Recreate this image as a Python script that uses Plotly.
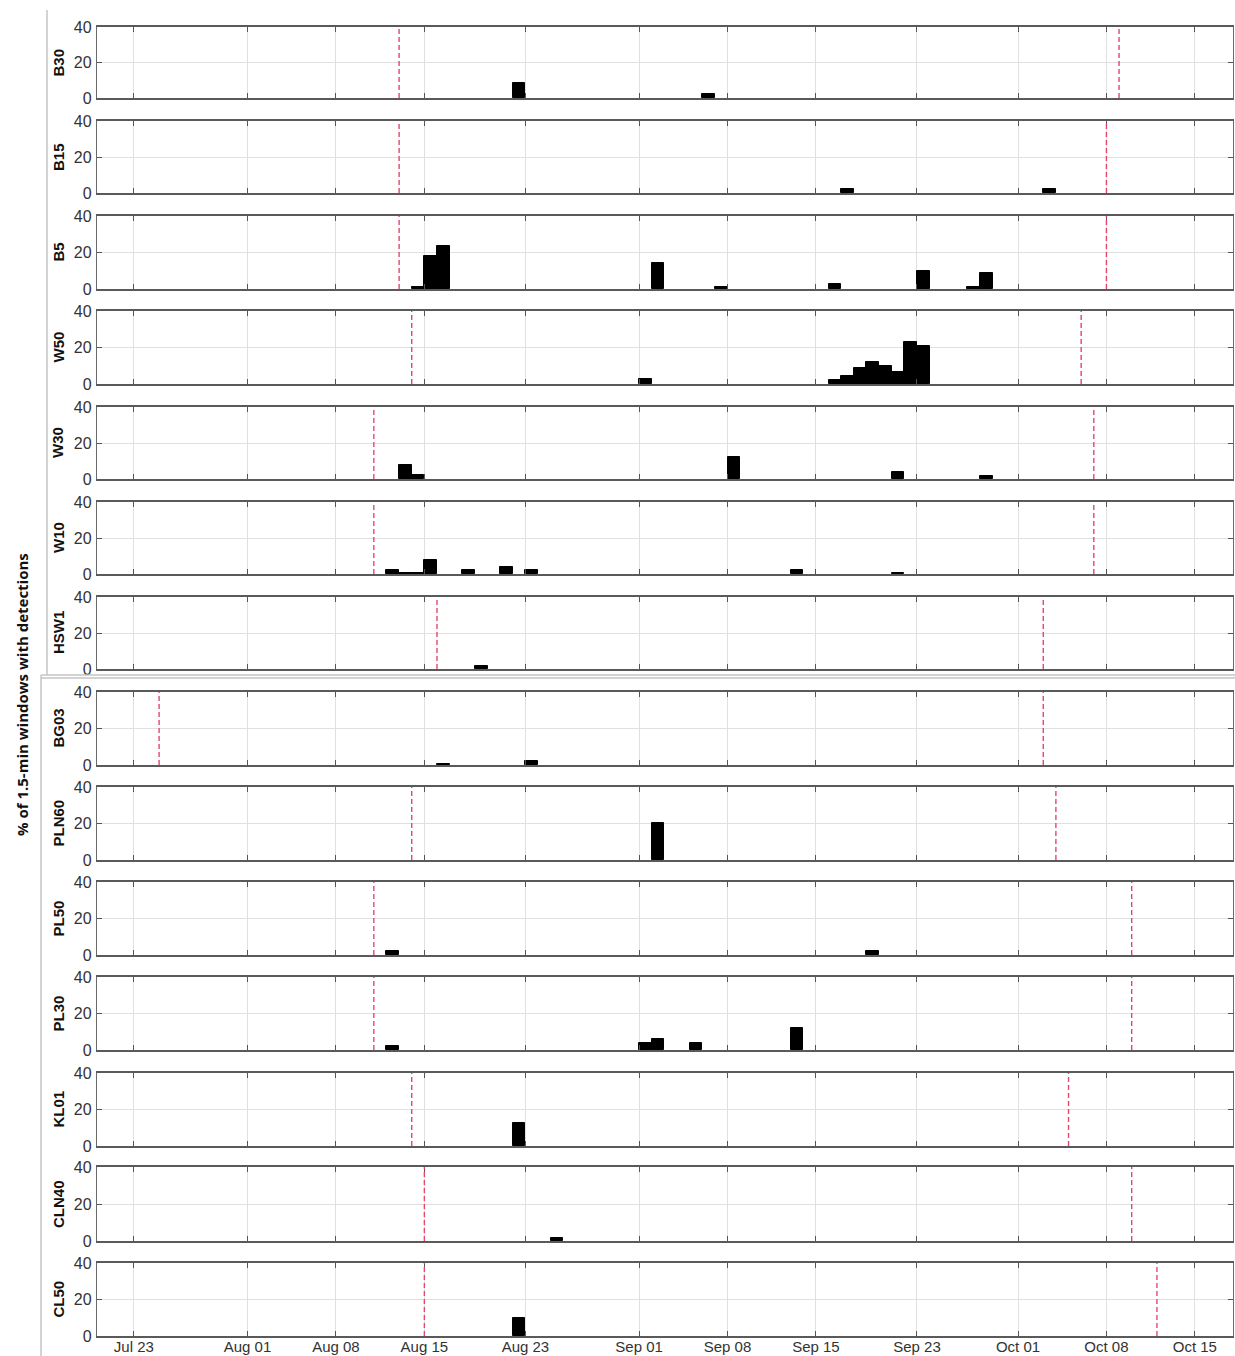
import plotly.graph_objects as go

YEAR = 2014

stations = ["B30", "B15", "B5", "W50", "W30", "W10", "HSW1",
            "BG03", "PLN60", "PL50", "PL30", "KL01", "CLN40", "CL50"]

# daily % of 1.5-min windows with detections (bar starts on the given day)
B30_days = ["08-22", "09-06"]
B30_pct = [8.5, 2]
B15_days = ["09-17", "10-03"]
B15_pct = [2, 2]
B5_days = ["08-14", "08-15", "08-16", "09-02", "09-07", "09-16", "09-23", "09-27", "09-28"]
B5_pct = [1, 18, 23.5, 14, 1, 2.5, 10, 1, 8.5]
W50_days = ["09-01", "09-16", "09-17", "09-18", "09-19", "09-20", "09-21", "09-22", "09-23"]
W50_pct = [2.5, 2, 4.5, 8.5, 12, 10, 6.5, 23, 21]
W30_days = ["08-13", "08-14", "09-08", "09-21", "09-28"]
W30_pct = [8, 2, 12.5, 4, 1.8]
W10_days = ["08-12", "08-13", "08-14", "08-15", "08-18", "08-21", "08-23", "09-13", "09-21"]
W10_pct = [2, 0.6, 0.6, 8, 2, 4, 2, 2, 0.7]
HSW1_days = ["08-19"]
HSW1_pct = [1.5]
BG03_days = ["08-16", "08-23"]
BG03_pct = [0.7, 2.2]
PLN60_days = ["09-02"]
PLN60_pct = [20.5]
PL50_days = ["08-12", "09-19"]
PL50_pct = [2, 2]
PL30_days = ["08-12", "09-01", "09-02", "09-05", "09-13"]
PL30_pct = [2, 4, 6, 4, 12]
KL01_days = ["08-22"]
KL01_pct = [12.5]
CLN40_days = ["08-25"]
CLN40_pct = [1.5]
CL50_days = ["08-22"]
CL50_pct = [10]

# deployment start / end (red dashed lines)
deploy_start = ["08-13", "08-13", "08-13", "08-14", "08-11", "08-11", "08-16",
                "07-25", "08-14", "08-11", "08-11", "08-14", "08-15", "08-15"]
deploy_end = ["10-09", "10-08", "10-08", "10-06", "10-07", "10-07", "10-03",
              "10-03", "10-04", "10-10", "10-10", "10-05", "10-10", "10-12"]

tick_days = ["07-23", "08-01", "08-08", "08-15", "08-23", "09-01",
             "09-08", "09-15", "09-23", "10-01", "10-08", "10-15"]
y_ticks = [0, 20, 40]

days = [B30_days, B15_days, B5_days, W50_days, W30_days, W10_days, HSW1_days,
        BG03_days, PLN60_days, PL50_days, PL30_days, KL01_days, CLN40_days, CL50_days]
pcts = [B30_pct, B15_pct, B5_pct, W50_pct, W30_pct, W10_pct, HSW1_pct,
        BG03_pct, PLN60_pct, PL50_pct, PL30_pct, KL01_pct, CLN40_pct, CL50_pct]


def d(s):
    return f"{YEAR}-{s}"


W, H = 1235, 1356


def px(x):
    return x / W


def py(y):
    return 1 - y / H


tops = [27, 121, 216, 311, 407, 502, 597, 692, 787, 882, 977, 1073, 1167, 1263]
bots = [98, 193, 289, 384, 479, 574, 669, 765, 860, 955, 1050, 1146, 1241, 1336]
xl, xr = 97, 1233

fig = go.Figure()
layout = dict(width=W, height=H, margin=dict(l=0, r=0, t=0, b=0),
              paper_bgcolor="white", plot_bgcolor="white", showlegend=False,
              bargap=0, font=dict(family="Liberation Sans, Arial", color="#333"))
shapes = []
annotations = []
n = len(stations)
for i in range(n):
    k = "" if i == 0 else str(i + 1)
    fig.add_trace(go.Bar(
        x=[d(s) for s in days[i]], y=pcts[i], xaxis="x" + k, yaxis="y" + k,
        offset=0, width=86400000,
        marker=dict(color="black", line=dict(color="black", width=1)),
        showlegend=False, hoverinfo="x+y"))
    last = i == n - 1
    layout["xaxis" + k] = dict(
        domain=[px(xl), px(xr)], anchor="y" + k, type="date",
        range=[d("07-20 02:00"), d("10-18 00:30")],
        tickvals=[d(s) for s in tick_days], tickformat="%b %d",
        showticklabels=last, tickfont=dict(size=15, color="#333"),
        ticks="inside", ticklen=5, tickcolor="#555", tickwidth=1.2,
        showgrid=True, gridcolor="#e0e0e0", gridwidth=1,
        showline=True, linecolor="#5a5a5a", linewidth=1.8, mirror="ticks",
        zeroline=False, automargin=False, ticklabelstandoff=-4)
    layout["yaxis" + k] = dict(
        domain=[py(bots[i]), py(tops[i])], anchor="x" + k,
        range=[0, 40], tickvals=y_ticks,
        tickfont=dict(size=16, color="#333"),
        ticks="inside", ticklen=5, tickcolor="#555", tickwidth=1.2,
        showgrid=True, gridcolor="#e0e0e0", gridwidth=1,
        showline=True, linecolor="#6a6a6a", linewidth=1.4, mirror="ticks",
        zeroline=False, automargin=False, ticklabelstandoff=1)
    for dd in (deploy_start[i], deploy_end[i]):
        shapes.append(dict(type="line", xref="x" + k, yref="y" + k + " domain",
                           x0=d(dd), x1=d(dd), y0=0, y1=1,
                           line=dict(color="#e8456e", width=1.4, dash="5px,3px")))
    annotations.append(dict(text=f"<b>{stations[i]}</b>", xref="paper", yref="paper",
                            x=px(58), y=py((tops[i] + bots[i]) / 2),
                            xanchor="center", yanchor="middle",
                            textangle=-90, showarrow=False,
                            font=dict(size=15, color="#111", family="Liberation Sans, Arial")))

annotations.append(dict(text="<b>% of 1.5-min windows with detections</b>",
                        xref="paper", yref="paper", x=px(22), y=py(695),
                        xanchor="center", yanchor="middle",
                        textangle=-90, showarrow=False,
                        font=dict(size=15, color="#111", family="Open Sans")))

# composite-image frame lines
frame = "#c4c4c4"
shapes += [
    dict(type="line", xref="paper", yref="paper", x0=px(47), x1=px(47),
         y0=py(10), y1=py(675), line=dict(color=frame, width=1.5)),
    dict(type="line", xref="paper", yref="paper", x0=px(41), x1=1,
         y0=py(675), y1=py(675), line=dict(color=frame, width=1.5)),
    dict(type="line", xref="paper", yref="paper", x0=px(41), x1=1,
         y0=py(678), y1=py(678), line=dict(color=frame, width=1.5)),
    dict(type="line", xref="paper", yref="paper", x0=px(41), x1=px(41),
         y0=py(675), y1=0, line=dict(color=frame, width=1.5)),
]

layout["shapes"] = shapes
layout["annotations"] = annotations
fig.update_layout(**layout)
fig.write_html("out.html", config={"displayModeBar": False},
               post_script="document.body.style.margin='0';"
                           "document.body.style.overflow='hidden';")
